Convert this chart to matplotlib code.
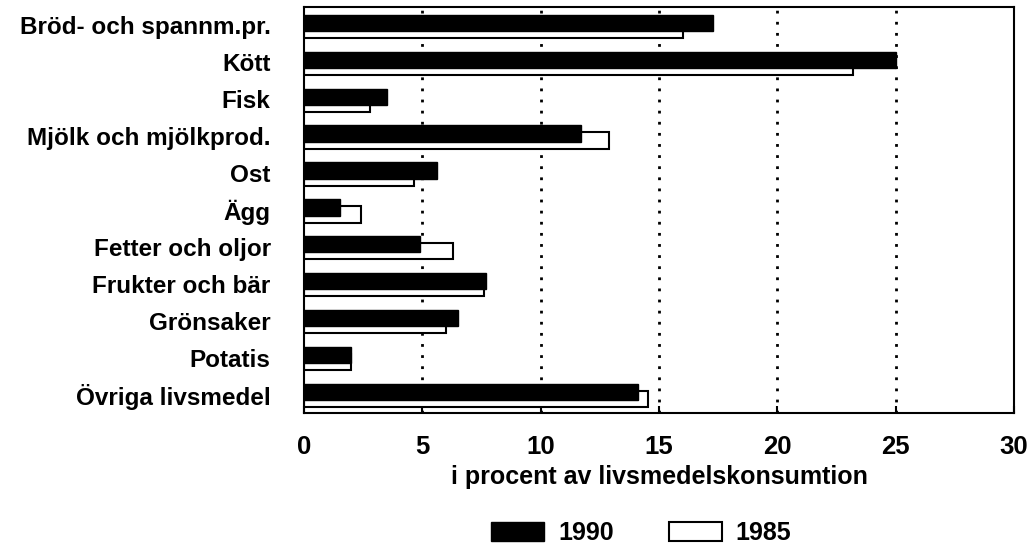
import matplotlib
matplotlib.use("Agg")
import matplotlib.pyplot as plt
import numpy as np
from matplotlib.patches import Patch

categories = ["Bröd- och spannm.pr.", "Kött", "Fisk", "Mjölk och mjölkprod.", "Ost", "Ägg",
              "Fetter och oljor", "Frukter och bär", "Grönsaker", "Potatis", "Övriga livsmedel"]
v1990 = [17.3, 25.0, 3.5, 11.7, 5.6, 1.5, 4.9, 7.7, 6.5, 2.0, 14.1]
v1985 = [16.0, 23.2, 2.8, 12.9, 4.65, 2.4, 6.3, 7.6, 6.0, 2.0, 14.55]
xticks = [0, 5, 10, 15, 20, 25, 30]
xlabel = "i procent av livsmedelskonsumtion"

plt.rcParams['font.family'] = ['Liberation Sans', 'DejaVu Sans']
plt.rcParams['font.weight'] = 'bold'

fig = plt.figure(figsize=(10.33, 5.52), dpi=100)
ax = fig.add_axes([304/1033, 1-413/552, (1014-304)/1033, (413-7)/552])

pos = np.arange(len(categories))
h = 0.44
ax.barh(pos + 0.12, v1985, height=h, color='white', edgecolor='black', linewidth=1.5, zorder=2)
ax.barh(pos - 0.07, v1990, height=h, color='black', edgecolor='black', linewidth=1.0, zorder=3)

ax.set_xlim(0, 30)
ax.set_ylim(len(categories) - 0.5, -0.5)
ax.set_yticks(pos)
ax.set_yticklabels(categories, fontsize=17.5, fontweight='bold')
ax.tick_params(axis='y', length=0, pad=24)
ax.set_xticks(xticks)
ax.set_xticklabels([str(t) for t in xticks], fontsize=18.5, fontweight='bold')
ax.tick_params(axis='x', direction='in', length=5, width=1.5, pad=16)
for gx in xticks[1:-1]:
    ax.axvline(gx, color='black', linewidth=2, linestyle=(0, (1, 3)), zorder=1)
for s in ax.spines.values():
    s.set_linewidth(1.5)
ax.set_xlabel(xlabel, fontsize=18, fontweight='bold', labelpad=4)

handles = [Patch(facecolor='black', edgecolor='black', label='1990'),
           Patch(facecolor='white', edgecolor='black', linewidth=1.5, label='1985')]
fig.legend(handles=handles, loc='center', bbox_to_anchor=(641/1033, 1-533/552), ncol=2,
           frameon=False, prop={'size': 18, 'weight': 'bold'}, handlelength=2.12, handleheight=0.8,
           handletextpad=0.56, columnspacing=2.2, borderpad=0)

fig.savefig("out.png", dpi=100)
